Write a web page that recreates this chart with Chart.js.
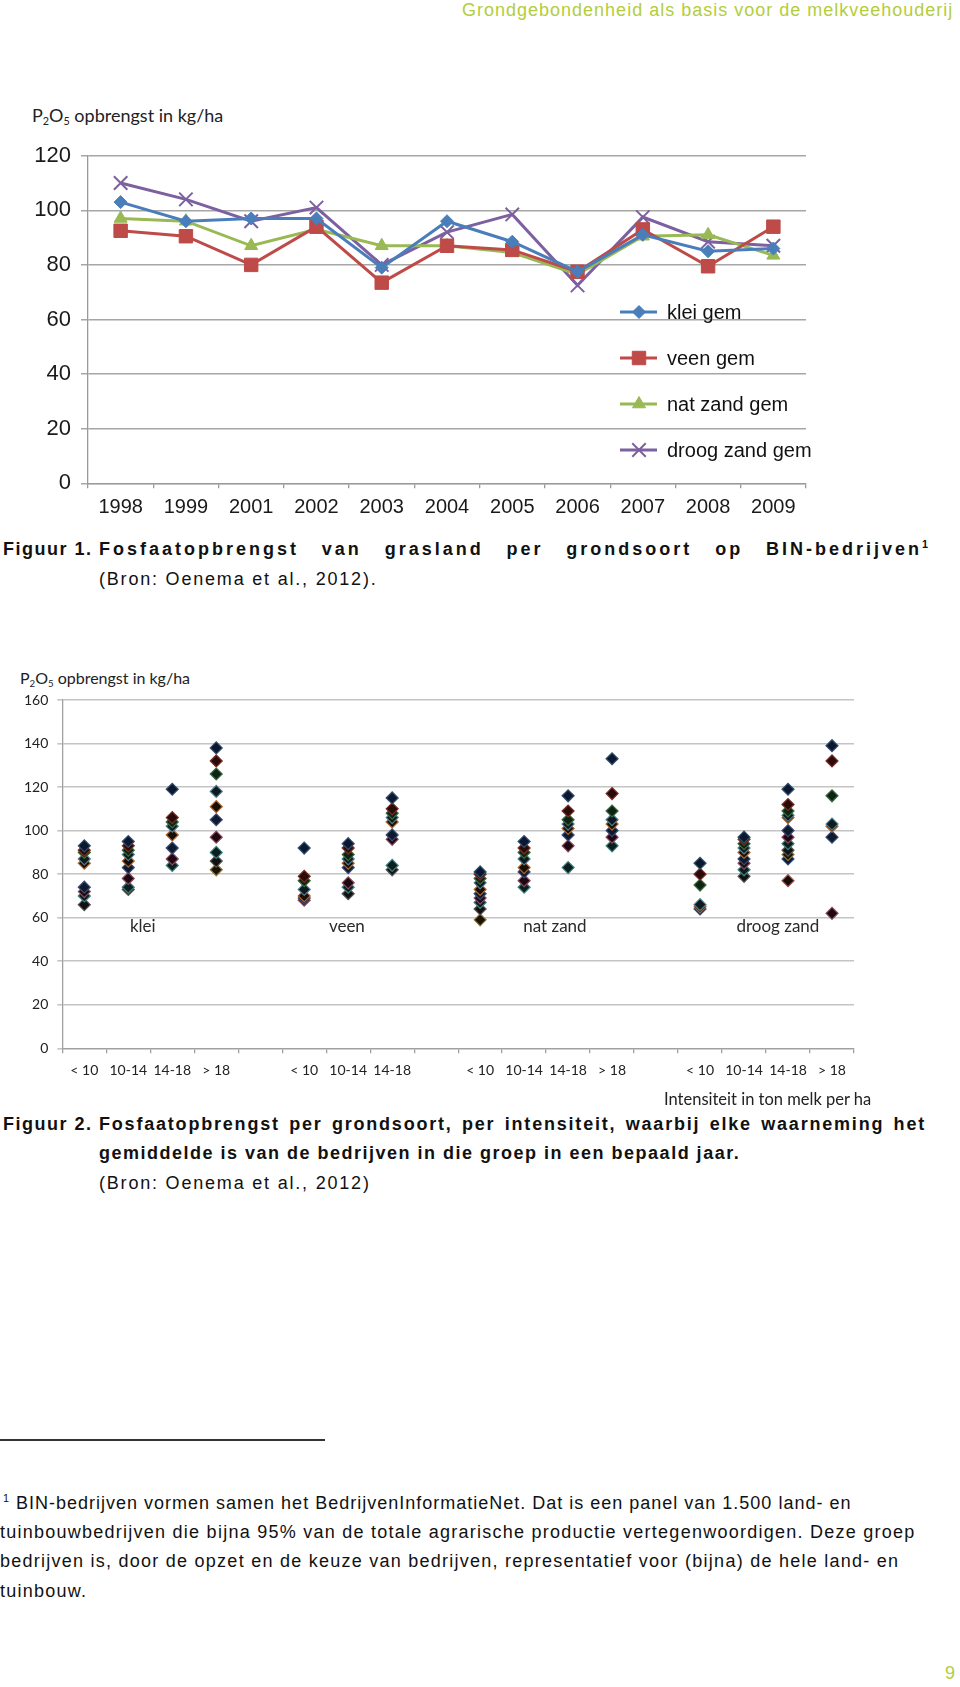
<!DOCTYPE html>
<html>
<head>
<meta charset="utf-8">
<script src="https://cdn.jsdelivr.net/npm/chart.js@4.4.1/dist/chart.umd.min.js"></script>
<style>
  body { margin: 0; background: #fff; }
  #page { position: relative; width: 960px; height: 1687px; overflow: hidden; font-family: 'Liberation Sans', Arial, sans-serif; color: #111; }
  .ln { position: absolute; white-space: nowrap; font-size: 18px; line-height: 20px; letter-spacing: 1.25px; }
  .b { font-weight: bold; letter-spacing: 1.5px; }
  .just { text-align: justify; text-align-last: justify; white-space: normal; }
  .green { color: #b3cd3c; }
  .ttl { position: absolute; white-space: nowrap; font-family: Lato, 'Open Sans', sans-serif; color: #222; }
  .ttl sub { font-size: 60%; vertical-align: -3px; line-height: 0; }
  sup { font-size: 60%; line-height: 0; vertical-align: 7px; }
  canvas { position: absolute; left: 0; }
</style>
</head>
<body>
<div id="page">
  <div class="ln green" style="left:462px;top:0px;font-size:18px;letter-spacing:1px;">Grondgebondenheid als basis voor de melkveehouderij</div>

  <div class="ttl" style="left:32px;top:104px;font-size:18px;">P<sub>2</sub>O<sub>5</sub> opbrengst in kg/ha</div>
  <canvas id="lineChart" width="960" height="385" style="top:140px"></canvas>

  <div class="ln b" style="left:3px;top:539px;">Figuur 1.</div>
  <div class="ln b just" style="left:99px;top:539px;width:829px;letter-spacing:3px;">Fosfaatopbrengst van grasland per grondsoort op BIN-bedrijven<sup style="letter-spacing:0">1</sup></div>
  <div class="ln" style="left:99px;top:569px;letter-spacing:1.8px;">(Bron: Oenema et al., 2012).</div>

  <div class="ttl" style="left:20px;top:668px;font-size:16px;">P<sub>2</sub>O<sub>5</sub> opbrengst in kg/ha</div>
  <canvas id="scatterChart" width="960" height="410" style="top:680px"></canvas>
  <div class="ttl" style="left:664px;top:1089px;font-size:16.5px;">Intensiteit in ton melk per ha</div>

  <div class="ln b" style="left:3px;top:1114px;">Figuur 2.</div>
  <div class="ln b just" style="left:99px;top:1114px;width:827px;letter-spacing:1.8px;">Fosfaatopbrengst per grondsoort, per intensiteit, waarbij elke waarneming het</div>
  <div class="ln b" style="left:99px;top:1143px;">gemiddelde is van de bedrijven in die groep in een bepaald jaar.</div>
  <div class="ln" style="left:99px;top:1173px;letter-spacing:1.8px;">(Bron: Oenema et al., 2012)</div>

  <div style="position:absolute;left:0;top:1439px;width:325px;height:1.5px;background:#333;"></div>
  <div class="ln" style="left:3px;top:1493px;letter-spacing:1px;"><sup>1</sup> BIN-bedrijven vormen samen het BedrijvenInformatieNet. Dat is een panel van 1.500 land- en</div>
  <div class="ln" style="left:0px;top:1522px;">tuinbouwbedrijven die bijna 95% van de totale agrarische productie vertegenwoordigen. Deze groep</div>
  <div class="ln" style="left:0px;top:1551px;">bedrijven is, door de opzet en de keuze van bedrijven, representatief voor (bijna) de hele land- en</div>
  <div class="ln" style="left:0px;top:1581px;">tuinbouw.</div>

  <div class="ln green" style="left:945px;top:1663px;font-size:18px;">9</div>
</div>

<script>
// ---- Figuur 1: P2O5 opbrengst per jaar per grondsoort ----
const years = ['1998', '1999', '2001', '2002', '2003', '2004', '2005', '2006', '2007', '2008', '2009'];
const kleiGem = [103, 96, 97, 97, 79, 96, 88.5, 77.5, 91, 85, 86];
const veenGem = [92.5, 90.5, 80, 94, 73.5, 87, 85.5, 77.5, 93, 79.5, 94];
const natZandGem = [97, 96, 87, 93, 87, 87, 84.5, 76.5, 90.5, 91, 83.5];
const droogZandGem = [110, 104, 96, 101, 80, 92, 98.5, 72.5, 97.5, 88.5, 87];
const yTicks1 = { min: 0, max: 120, step: 20 };

// ---- Figuur 2: waarnemingen per grondsoort en intensiteit ----
const intensLabels = ['< 10', '10-14', '14-18', '> 18', '', '< 10', '10-14', '14-18', '', '< 10', '10-14', '14-18', '> 18', '', '< 10', '10-14', '14-18', '> 18'];
const klei = [
  [93, 91, 90, 87, 85, 74, 72, 70, 66],
  [95, 93, 91, 89, 86, 83, 78, 74, 73],
  [119, 106, 104, 102, 98, 92, 87, 84],
  [138, 132, 126, 118, 111, 105, 97, 90, 86, 82]
];
const veen = [
  [92, 79, 77, 73, 70, 69, 68],
  [94, 92, 89, 87, 85, 83, 76, 74, 71],
  [115, 110, 108, 106, 104, 98, 96, 84, 82]
];
const natZand = [
  [81, 80, 78, 76, 73, 71, 69, 67, 64, 59],
  [95, 92, 90, 87, 83, 81, 77, 74],
  [116, 109, 105, 103, 101, 98, 93, 83],
  [133, 117, 109, 105, 103, 100, 97, 93]
];
const droogZand = [
  [85, 80, 75, 66, 65, 64],
  [97, 96, 94, 92, 90, 87, 85, 82, 79],
  [119, 112, 109, 107, 106, 100, 97, 94, 91, 89, 87, 77],
  [139, 132, 116, 103, 102, 97, 62]
];
const groupNames = ['klei', 'veen', 'nat zand', 'droog zand'];
const yTicks2 = { min: 0, max: 160, step: 20 };

// label anchors (category index, value) for the group names
const groupLabelAt = [1.33, 5.97, 10.7, 15.77];
const groupLabelY = 56;

// legend layout for figuur 1 (canvas px)
const legendX = 620, legendY = 172, legendGap = 46;

// scale padding off, so the layout padding alone places the plot area
function noScalePad(s) {
  s.paddingTop = 0; s.paddingBottom = 0; s.paddingLeft = 0; s.paddingRight = 0;
}

// ---------------------------------------------------------------
const lineLegend = {
  id: 'lineLegend',
  afterDraw(chart) {
    const ctx = chart.ctx;
    ctx.save();
    chart.data.datasets.forEach((ds, i) => {
      const yy = legendY + i * legendGap;
      ctx.strokeStyle = ds.borderColor;
      ctx.lineWidth = 3;
      ctx.beginPath();
      ctx.moveTo(legendX, yy);
      ctx.lineTo(legendX + 37, yy);
      ctx.stroke();
      ctx.fillStyle = ds.pointBackgroundColor;
      ctx.strokeStyle = ds.borderColor;
      ctx.lineWidth = ds.pointBorderWidth || 1;
      if (Chart.helpers && Chart.helpers.drawPoint) {
        Chart.helpers.drawPoint(ctx, { pointStyle: ds.pointStyle, radius: ds.pointRadius, borderWidth: ds.pointBorderWidth || 1, rotation: 0 }, legendX + 19, yy);
      }
      ctx.fillStyle = '#111';
      ctx.font = '20px "Liberation Sans", Arial, sans-serif';
      ctx.textBaseline = 'middle';
      ctx.textAlign = 'left';
      ctx.fillText(ds.label, legendX + 47, yy + 1);
    });
    ctx.restore();
  }
};

function lineSet(label, data, color, style, radius, bw) {
  return {
    label: label,
    data: data,
    borderColor: color,
    backgroundColor: color,
    pointBackgroundColor: color,
    pointBorderColor: color,
    borderWidth: 3,
    pointStyle: style,
    pointRadius: radius,
    pointBorderWidth: bw,
    tension: 0
  };
}

new Chart(document.getElementById('lineChart'), {
  type: 'line',
  data: {
    labels: years,
    datasets: [
      lineSet('klei gem', kleiGem, '#4a7ebb', 'rectRot', 6.5, 1),
      lineSet('veen gem', veenGem, '#be4b48', 'rect', 9.5, 1),
      lineSet('nat zand gem', natZandGem, '#98b954', 'triangle', 7.5, 1),
      lineSet('droog zand gem', droogZandGem, '#7d60a0', 'crossRot', 9.5, 2)
    ]
  },
  options: {
    responsive: false,
    animation: false,
    layout: { padding: { top: 15.7, right: 154, left: 0, bottom: 0 } },
    plugins: { legend: { display: false }, tooltip: { enabled: false } },
    scales: {
      x: {
        offset: true,
        afterFit(s) { s.height = 41.7; noScalePad(s); },
        grid: { offset: true, drawOnChartArea: false, tickLength: 5, color: '#9a9a9a', lineWidth: 1.3 },
        border: { color: '#9a9a9a', width: 1.3 },
        ticks: { color: '#1a1a1a', padding: 7, font: { family: '"Liberation Sans", Arial, sans-serif', size: 20 }, maxRotation: 0, autoSkip: false }
      },
      y: {
        min: yTicks1.min, max: yTicks1.max,
        afterFit(s) { s.width = 88; noScalePad(s); },
        grid: { color: '#a6a6a6', lineWidth: 1.5, tickLength: 7 },
        border: { color: '#9a9a9a', width: 1.3 },
        ticks: { stepSize: yTicks1.step, color: '#1a1a1a', padding: 10, font: { family: '"Liberation Sans", Arial, sans-serif', size: 22 } }
      }
    }
  },
  plugins: [lineLegend]
});

// ---------------------------------------------------------------
const columns = [...klei, null, ...veen, null, ...natZand, null, ...droogZand];
const maxRows = Math.max(...columns.map(c => (c ? c.length : 0)));
const pointFills = ['#0b1830', '#2a0a0a', '#0c2416', '#101820', '#1a0f05', '#0e1b2c', '#200812', '#0b1f1f', '#111111', '#1b1206', '#0a1428', '#180c0c'];
const pointEdges = ['#31506e', '#7a2e22', '#3d6b3a', '#4b7f8e', '#b0652a', '#3a4a7a', '#8a4a5e', '#3f8080', '#555555', '#8c7a3a', '#2f4f8f', '#a0504a'];

const scatterSets = [];
for (let k = 0; k < maxRows; k++) {
  scatterSets.push({
    label: 'reeks ' + (k + 1),
    data: columns.map(c => (c && c[k] !== undefined ? c[k] : null)),
    showLine: false,
    pointStyle: 'rectRot',
    pointRadius: 6,
    pointBorderWidth: 1.2,
    pointBackgroundColor: pointFills[k % pointFills.length],
    pointBorderColor: pointEdges[k % pointEdges.length]
  });
}

const groupLabelPlugin = {
  id: 'groupLabels',
  afterDatasetsDraw(chart) {
    const { ctx, scales } = chart;
    ctx.save();
    ctx.font = '17px Lato, "Open Sans", sans-serif';
    ctx.fillStyle = '#2a2a2a';
    ctx.textAlign = 'center';
    ctx.textBaseline = 'middle';
    groupNames.forEach((n, i) => {
      ctx.fillText(n, scales.x.getPixelForValue(groupLabelAt[i]), scales.y.getPixelForValue(groupLabelY));
    });
    ctx.restore();
  }
};

new Chart(document.getElementById('scatterChart'), {
  type: 'line',
  data: { labels: intensLabels, datasets: scatterSets },
  options: {
    responsive: false,
    animation: false,
    layout: { padding: { top: 20, right: 106, left: 0, bottom: 0 } },
    plugins: { legend: { display: false }, tooltip: { enabled: false } },
    scales: {
      x: {
        offset: true,
        afterFit(s) { s.height = 41.7; noScalePad(s); },
        grid: { offset: true, drawOnChartArea: false, tickLength: 5, color: '#a0a0a0', lineWidth: 1.3 },
        border: { color: '#a0a0a0', width: 1.3 },
        ticks: { color: '#222', padding: 9, font: { family: 'Lato, "Open Sans", sans-serif', size: 14 }, maxRotation: 0, autoSkip: false }
      },
      y: {
        min: yTicks2.min, max: yTicks2.max,
        afterFit(s) { s.width = 62.3; noScalePad(s); },
        grid: { color: '#c4c4c4', lineWidth: 1.6, tickLength: 5 },
        border: { color: '#a0a0a0', width: 1.3 },
        ticks: { stepSize: yTicks2.step, color: '#222', padding: 9, font: { family: 'Lato, "Open Sans", sans-serif', size: 14 } }
      }
    }
  },
  plugins: [groupLabelPlugin]
});
</script>
</body>
</html>
